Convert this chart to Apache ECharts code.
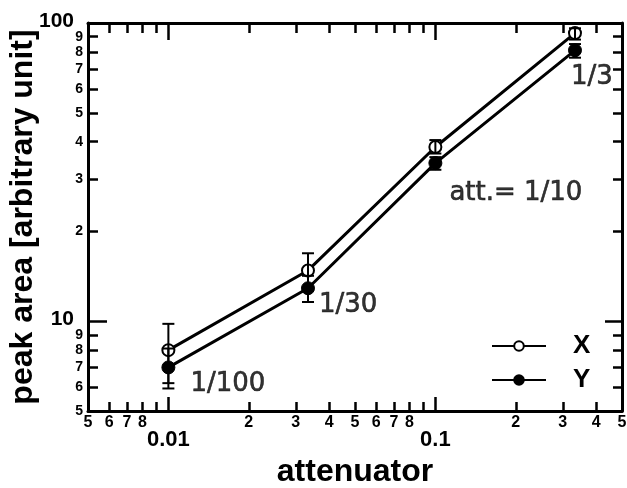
<!DOCTYPE html>
<html>
<head>
<meta charset="utf-8">
<script src="https://cdn.jsdelivr.net/npm/echarts@6/dist/echarts.min.js"></script>
<style>
  html, body { margin: 0; padding: 0; background: #fff; }
  #chart { width: 627px; height: 488px; }
</style>
</head>
<body>
<div id="chart"></div>
<script>
// attenuator settings and measured peak areas
const attenuation = [0.01, 1 / 30, 0.1, 1 / 3]
const attLabels = ['1/100', '1/30', 'att.= 1/10', '1/3']
const peakX = [8.0, 14.8, 38.4, 92.5]
const peakY = [7.0, 12.9, 33.9, 81]
const errXLow = [6.2, 12.7, 36.5, 88]
const errXHigh = [9.8, 16.9, 40.5, 96]
const errYLow = [5.95, 11.6, 32.2, 76.5]
const errYHigh = [8.1, 14.2, 35.5, 85]

// ticks and tick labels
const xMinorTicks = [0.006, 0.007, 0.008, 0.009, 0.02, 0.03, 0.04, 0.05, 0.06, 0.07, 0.08, 0.09, 0.2, 0.3, 0.4]
const xMajorTicks = [0.01, 0.1]
const xLabelValues = [0.005, 0.006, 0.007, 0.008, 0.01, 0.02, 0.03, 0.04, 0.05, 0.06, 0.07, 0.08, 0.1, 0.2, 0.3, 0.4, 0.5]
const xLabelTexts = ['5', '6', '7', '8', '0.01', '2', '3', '4', '5', '6', '7', '8', '0.1', '2', '3', '4', '5']
const yMinorTicks = [6, 7, 8, 9, 20, 30, 40, 50, 60, 70, 80, 90]
const yMajorTicks = [10]
const yLabelValues = [5, 6, 7, 8, 9, 10, 20, 30, 40, 50, 60, 70, 80, 90, 100]
const yLabelTexts = ['5', '6', '7', '8', '9', '10', '2', '3', '4', '5', '6', '7', '8', '9', '100']
const bigLabels = ['0.01', '0.1', '10', '100']

const FONT = '"Liberation Sans", Arial, sans-serif'

const lookup = (vals, texts, gap) => v => {
  for (let i = 0; i < vals.length; i++) {
    if (Math.abs(Math.log10(v) - Math.log10(vals[i])) < 1e-6) {
      const t = texts[i]
      if (bigLabels.includes(t)) return gap ? `{b|${t}}{g|}` : `{b|${t}}`
      return `{s|${t}}`
    }
  }
  return ''
}

const axisBase = (dim, pos, ticks, len, showLine) => ({
  type: 'log',
  logBase: 10,
  position: pos,
  min: dim === 'x' ? 0.005 : 5,
  max: dim === 'x' ? 0.5 : 100,
  axisLine: { show: showLine, lineStyle: { color: '#000', width: 3 } },
  axisTick: { show: true, inside: true, length: len, customValues: ticks, lineStyle: { color: '#000', width: 2.5 } },
  axisLabel: { show: false },
  splitLine: { show: false },
  minorTick: { show: false }
})

const yRich = {
  s: { fontFamily: FONT, fontWeight: 'bold', fontSize: 14, color: '#000' },
  b: { fontFamily: FONT, fontWeight: 'bold', fontSize: 21, color: '#000', padding: [0, 0, 4, 0] },
  g: { width: 9 }
}

const chart = echarts.init(document.getElementById('chart'))

const xMain = axisBase('x', 'bottom', xMinorTicks, 9, true)
xMain.axisLabel = {
  show: true,
  customValues: xLabelValues,
  showMinLabel: true,
  showMaxLabel: true,
  margin: 4,
  formatter: lookup(xLabelValues, xLabelTexts, false),
  rich: {
    s: { fontFamily: FONT, fontWeight: 'bold', fontSize: 16, color: '#000' },
    b: { fontFamily: FONT, fontWeight: 'bold', fontSize: 22, color: '#000', padding: [14, 0, 0, 0] }
  }
}
xMain.name = 'attenuator'
xMain.nameLocation = 'middle'
xMain.nameGap = 45
xMain.nameTextStyle = { fontFamily: FONT, fontWeight: 'bold', fontSize: 32, color: '#000' }

// the top label (100) sits on its own axis so it does not hide its neighbour
const yTop = yLabelValues[yLabelValues.length - 1]

const yMain = axisBase('y', 'left', yMinorTicks, 10, true)
yMain.axisLabel = {
  show: true,
  customValues: yLabelValues.filter(v => v !== yTop),
  showMinLabel: true,
  showMaxLabel: true,
  margin: 5,
  formatter: lookup(yLabelValues, yLabelTexts, true),
  rich: yRich
}
yMain.name = 'peak area [arbitrary unit]'
yMain.nameLocation = 'middle'
yMain.nameGap = 49
yMain.nameTextStyle = { fontFamily: FONT, fontWeight: 'bold', fontSize: 32, color: '#000' }

const yMajor = axisBase('y', 'left', yMajorTicks, 19, false)
yMajor.axisLabel = {
  show: true,
  customValues: [yTop],
  showMinLabel: true,
  showMaxLabel: true,
  margin: 5,
  formatter: lookup(yLabelValues, yLabelTexts, true),
  rich: yRich
}

const errorBars = (lows, highs) => ({
  type: 'custom',
  xAxisIndex: 0,
  yAxisIndex: 0,
  z: 4,
  silent: true,
  encode: { x: 0, y: [1, 2] },
  data: attenuation.map((a, i) => [a, lows[i], highs[i]]),
  renderItem: (params, api) => {
    const lo = api.coord([api.value(0), api.value(1)])
    const hi = api.coord([api.value(0), api.value(2)])
    const w = 6
    const st = { stroke: '#000', lineWidth: 2 }
    return {
      type: 'group',
      children: [
        { type: 'line', shape: { x1: lo[0], y1: lo[1], x2: hi[0], y2: hi[1] }, style: st },
        { type: 'line', shape: { x1: lo[0] - w, y1: lo[1], x2: lo[0] + w, y2: lo[1] }, style: st },
        { type: 'line', shape: { x1: hi[0] - w, y1: hi[1], x2: hi[0] + w, y2: hi[1] }, style: st }
      ]
    }
  }
})

const annOffsets = [[22, 17], [11, 17], [14, 30], [-4, 27]]

chart.setOption({
  backgroundColor: '#fff',
  animation: false,
  grid: { left: 88, right: 5, top: 23, bottom: 77, containLabel: false, outerBoundsMode: 'none' },
  legend: {
    left: 486,
    top: 328,
    orient: 'vertical',
    itemWidth: 54,
    itemHeight: 12,
    itemGap: 8,
    data: ['X', 'Y'],
    textStyle: { fontFamily: FONT, fontWeight: 'bold', fontSize: 26, lineHeight: 26, color: '#000', padding: [0, 0, 0, 22] }
  },
  xAxis: [
    xMain,
    axisBase('x', 'bottom', xMajorTicks, 14, false),
    axisBase('x', 'top', xMinorTicks, 10, true),
    axisBase('x', 'top', xMajorTicks, 17, false)
  ],
  yAxis: [
    yMain,
    yMajor,
    axisBase('y', 'right', yMinorTicks, 9, true),
    axisBase('y', 'right', yMajorTicks, 17, false)
  ],
  series: [
    {
      name: 'X',
      type: 'line',
      data: attenuation.map((a, i) => [a, peakX[i]]),
      symbol: 'circle',
      symbolSize: 12,
      lineStyle: { color: '#000', width: 3 },
      itemStyle: { color: '#fff', borderColor: '#000', borderWidth: 2 },
      z: 3
    },
    {
      name: 'Y',
      type: 'line',
      data: attenuation.map((a, i) => [a, peakY[i]]),
      symbol: 'circle',
      symbolSize: 13,
      lineStyle: { color: '#000', width: 3 },
      itemStyle: { color: '#000', borderColor: '#000', borderWidth: 1 },
      z: 3
    },
    errorBars(errXLow, errXHigh),
    errorBars(errYLow, errYHigh),
    {
      type: 'scatter',
      symbolSize: 0,
      silent: true,
      data: attenuation.map((a, i) => ({
        value: [a, peakY[i]],
        label: {
          show: true,
          formatter: attLabels[i],
          position: annOffsets[i],
          align: 'left',
          verticalAlign: 'middle',
          fontFamily: '"DejaVu Sans", sans-serif',
          fontSize: 26,
          color: '#000',
          textBorderColor: '#000',
          textBorderWidth: 0.6
        }
      })),
      z: 5
    }
  ]
})
</script>
</body>
</html>
